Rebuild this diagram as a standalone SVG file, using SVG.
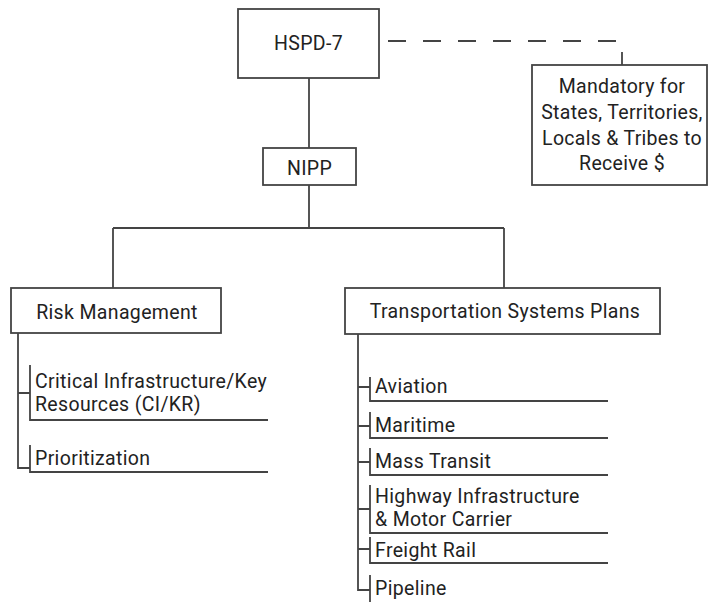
<svg xmlns="http://www.w3.org/2000/svg" width="710" height="602" viewBox="0 0 710 602">
  <style>
    .box { fill: #fff; stroke: #444; stroke-width: 1.8; }
    .ln { fill: none; stroke: #444; stroke-width: 1.8; }
    .dash { fill: none; stroke: #444; stroke-width: 1.8; stroke-dasharray: 18 17; }
    text { font-family: Roboto, "Open Sans", sans-serif; font-size: 19.5px; letter-spacing: 0.35px; fill: #222; }
    .c { text-anchor: middle; }
    .m { letter-spacing: 0.3px; }
  </style>
  <rect width="710" height="602" fill="#fff"/>

  <!-- connectors -->
  <g id="connectors">
    <path class="dash" d="M388 41 H622 V65"/>
    <path class="ln" d="M309 78 V148"/>
    <path class="ln" d="M309 185 V228 M113 228 H504 M113 228 V288 M504 228 V288"/>
    <!-- risk management branch -->
    <path class="ln" d="M18 333 V468 H30 M18 393 H30"/>
    <path class="ln" d="M30 365 V420 H268"/>
    <path class="ln" d="M30 445 V472 H268"/>
    <!-- transportation branch -->
    <path class="ln" d="M358 334 V590 H370"/>
    <path class="ln" d="M358 387 H370 M358 426 H370 M358 462 H370 M358 509 H370 M358 549 H370"/>
    <path class="ln" d="M370 377 V401 H608"/>
    <path class="ln" d="M370 412 V438 H608"/>
    <path class="ln" d="M370 448 V475 H608"/>
    <path class="ln" d="M370 485 V533 H608"/>
    <path class="ln" d="M370 537 V563 H608"/>
    <path class="ln" d="M370 575 V602"/>
  </g>

  <g id="hspd7">
    <rect class="box" x="238" y="9" width="141" height="69"/>
    <text class="c" x="308.5" y="50">HSPD-7</text>
  </g>

  <g id="mandatory">
    <rect class="box" x="532" y="65" width="175" height="120"/>
    <text class="c m" x="622" y="93">Mandatory for<tspan x="622" dy="26">States, Territories,</tspan><tspan x="622" dy="26">Locals &amp; Tribes to</tspan><tspan x="622" dy="25">Receive $</tspan></text>
  </g>

  <g id="nipp">
    <rect class="box" x="263" y="148" width="93" height="37"/>
    <text class="c" x="309.5" y="175">NIPP</text>
  </g>

  <g id="risk">
    <rect class="box" x="11" y="288" width="210" height="45"/>
    <text class="c" x="117" y="319">Risk Management</text>
  </g>

  <g id="transport">
    <rect class="box" x="345" y="288" width="315" height="46"/>
    <text class="c" x="505" y="318">Transportation Systems Plans</text>
  </g>

  <g id="cikr">
    <text x="35" y="387.5">Critical Infrastructure/Key</text>
    <text x="35" y="410.5">Resources (CI/KR)</text>
  </g>
  <g id="prioritization">
    <text x="35" y="465">Prioritization</text>
  </g>

  <g id="aviation"><text x="375" y="393">Aviation</text></g>
  <g id="maritime"><text x="375" y="432">Maritime</text></g>
  <g id="mass-transit"><text x="375" y="468">Mass Transit</text></g>
  <g id="highway">
    <text x="375" y="502.5">Highway Infrastructure</text>
    <text x="375" y="525.5">&amp; Motor Carrier</text>
  </g>
  <g id="freight-rail"><text x="375" y="557">Freight Rail</text></g>
  <g id="pipeline"><text x="375" y="595">Pipeline</text></g>
</svg>
